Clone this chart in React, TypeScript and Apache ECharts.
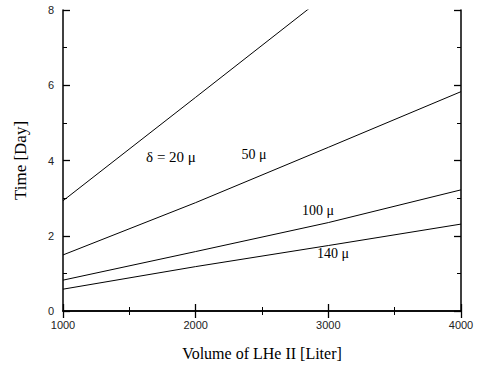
import React, { useEffect, useRef } from "react";
import * as echarts from "echarts";

const volumes = [1000, 2000, 3000, 4000];
const d20 = [2.93, 5.68, 8.44, 11.2];
const d50 = [1.49, 2.88, 4.35, 5.83];
const d100 = [0.82, 1.58, 2.35, 3.22];
const d140 = [0.58, 1.18, 1.74, 2.31];
const labels = [
  { text: "δ = 20 μ", x: 1814, y: 4.1 },
  { text: "50 μ", x: 2439, y: 4.15 },
  { text: "100 μ", x: 2922, y: 2.66 },
  { text: "140 μ", x: 3035, y: 1.52 },
];

const serif = "'Liberation Serif', 'Times New Roman', serif";
const sans = "'Liberation Sans', Arial, sans-serif";

export default function App() {
  const ref = useRef<HTMLDivElement>(null);
  useEffect(() => {
    if (!ref.current) return;
    const chart = echarts.init(ref.current, null, { renderer: "svg" });
    const mk = (vals: number[]) => volumes.map((v, i) => [v, vals[i]]);
    const axisLine = { show: true, lineStyle: { color: "#000", width: 1.5 } };
    const xCommon = {
      type: "value" as const,
      min: 1000,
      max: 4000,
      interval: 1000,
      axisLine,
      axisTick: { show: true, inside: true, length: 7, lineStyle: { color: "#000", width: 1.3 } },
      minorTick: { show: true, splitNumber: 2, length: 4, lineStyle: { color: "#000", width: 1 } },
      splitLine: { show: false },
    };
    const yCommon = {
      type: "value" as const,
      min: 0,
      max: 8,
      interval: 2,
      axisLine,
      axisTick: { show: true, inside: true, length: 7, lineStyle: { color: "#000", width: 1.3 } },
      minorTick: { show: true, splitNumber: 2, length: 4, lineStyle: { color: "#000", width: 1 } },
      splitLine: { show: false },
    };
    const series = [d20, d50, d100, d140].map((vals, i) => ({
      type: "line",
      data: mk(vals),
      showSymbol: false,
      symbol: "none",
      clip: true,
      lineStyle: { color: "#000", width: 1 },
      markPoint: {
        symbol: "circle",
        symbolSize: 0,
        data: [
          {
            coord: [labels[i].x, labels[i].y],
            label: {
              show: true,
              formatter: labels[i].text,
              position: "inside",
              color: "#000",
              fontFamily: serif,
              fontSize: i === 0 ? 15 : 14,
            },
          },
        ],
      },
    }));
    chart.setOption({
      animation: false,
      backgroundColor: "#fff",
      grid: { left: 63, right: 19, top: 10, bottom: 56, containLabel: false },
      xAxis: [
        {
          ...xCommon,
          position: "bottom",
          name: "Volume of LHe II [Liter]",
          nameLocation: "middle",
          nameGap: 34,
          nameTextStyle: { color: "#000", fontFamily: serif, fontSize: 16 },
          axisLabel: { color: "#222", fontFamily: sans, fontSize: 11, margin: 8, formatter: (v: number) => String(v) },
        },
        { ...xCommon, position: "top", axisLabel: { show: false } },
      ],
      yAxis: [
        {
          ...yCommon,
          position: "left",
          name: "Time [Day]",
          nameLocation: "middle",
          nameGap: 34,
          nameTextStyle: { color: "#000", fontFamily: serif, fontSize: 17 },
          axisLabel: { color: "#222", fontFamily: sans, fontSize: 11, margin: 9 },
        },
        { ...yCommon, position: "right", axisLabel: { show: false } },
      ],
      series,
    });
    return () => chart.dispose();
  }, []);
  return <div ref={ref} style={{ width: 480, height: 367, position: "absolute", left: 0, top: 0 }} />;
}
